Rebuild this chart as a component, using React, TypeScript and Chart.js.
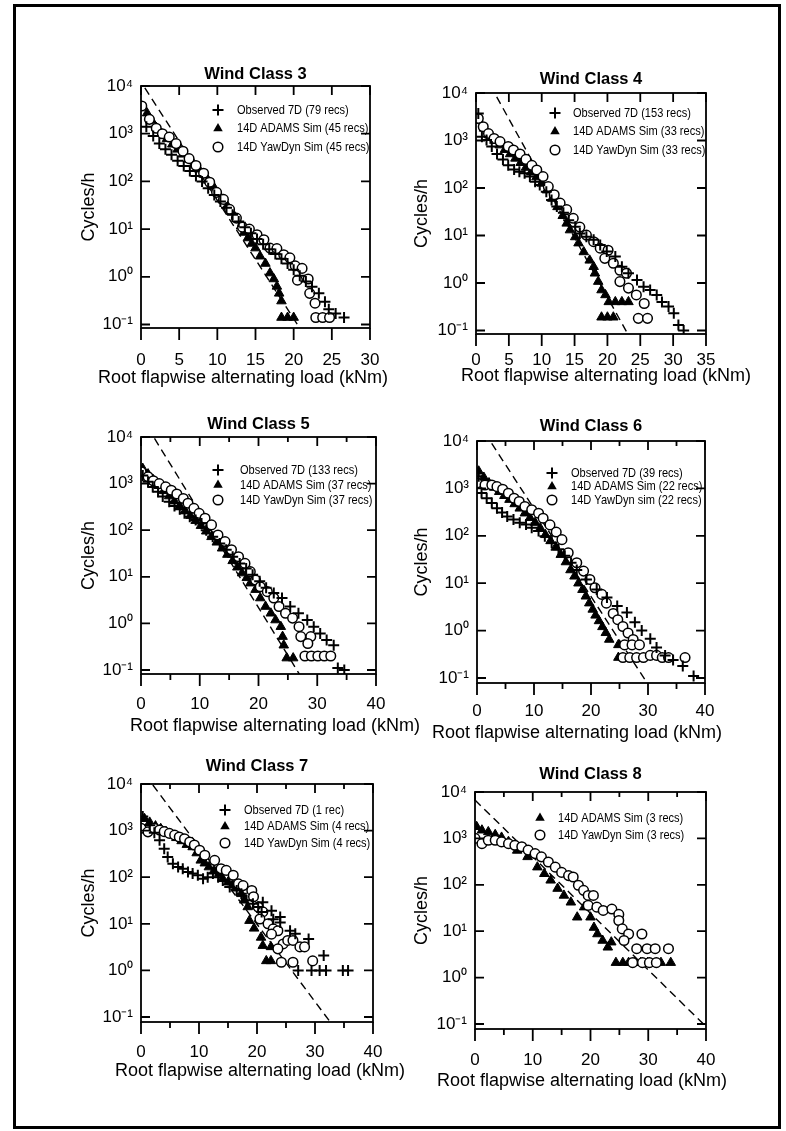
import React, { useEffect, useRef } from 'react';
import { Chart, registerables } from 'chart.js';

Chart.register(...registerables);

type Pt = [number, number];

// ---------- data (x = root flapwise alternating load kNm, y = cycles/h) ----------
const wc3Observed: Pt[] = [[0.7,1400],[1.6,900],[2.4,620],[3.2,470],[4.0,360],[4.8,270],[5.6,210],[6.4,165],[7.2,130],[8.0,100],[8.8,72],[9.6,52],[10.4,38],[11.2,28],[12.0,20],[12.8,14.5],[13.6,11],[14.4,8.2],[15.2,6.2],[16.0,4.8],[16.8,3.8],[17.6,3.0],[18.4,2.4],[19.2,1.9],[20.0,1.4],[20.8,1.05],[21.6,0.8],[22.4,0.62],[23.3,0.45],[24.1,0.3],[24.6,0.21],[25.5,0.17],[26.6,0.14]];
const wc3Adams: Pt[] = [[0.8,2700],[1.4,1900],[2.0,1350],[2.7,1000],[3.4,780],[4.1,600],[4.8,470],[5.5,370],[6.2,290],[6.9,230],[7.6,180],[8.2,140],[8.8,105],[9.5,78],[10.1,57],[10.7,42],[11.3,31],[11.9,23],[12.5,16.5],[13.1,11.5],[13.5,8.5],[14.0,6.5],[14.5,5.0],[15.0,4.0],[15.6,2.7],[16.3,1.9],[16.9,1.2],[17.4,0.9],[17.8,0.63],[18.1,0.45],[18.4,0.31],[18.4,0.14],[19.2,0.14],[20.0,0.14]];
const wc3YawDyn: Pt[] = [[0.1,3800],[1.1,2000],[2.0,1300],[2.8,1000],[3.7,850],[4.6,620],[5.5,430],[6.3,300],[7.2,215],[8.2,148],[9.0,96],[9.9,59],[10.8,42],[11.6,26],[12.5,17],[13.3,11],[14.2,10],[15.2,7.6],[16.1,6.0],[16.9,4.0],[17.8,3.9],[18.7,2.9],[19.5,2.5],[20.2,1.7],[21.1,1.5],[20.5,0.85],[21.9,0.9],[22.1,0.45],[22.8,0.28],[22.9,0.14],[23.8,0.14],[24.7,0.14]];
const wc3Fit: Pt[] = [[0.5,9100],[20.8,0.084]];

const wc4Observed: Pt[] = [[0.35,3700],[0.9,1200],[1.6,1020],[2.4,750],[3.2,520],[4.1,400],[4.9,300],[5.8,246],[6.6,220],[7.4,205],[8.2,174],[9.0,135],[9.7,115],[10.7,83],[11.5,56],[12.3,41],[13.3,30],[14.1,21],[15.1,15.3],[15.8,11],[16.8,9.4],[17.9,8.1],[18.9,6.3],[19.9,4.6],[21.2,3.6],[22.2,2.2],[23.2,1.6],[24.5,1.15],[25.5,0.83],[26.5,0.71],[27.5,0.56],[28.3,0.4],[29.3,0.32],[30.1,0.23],[30.8,0.13],[31.6,0.1]];
const wc4Adams: Pt[] = [[0.4,2600],[1.2,1800],[2.0,1300],[2.8,1000],[3.6,800],[4.4,640],[5.2,520],[6.0,420],[6.8,340],[7.6,270],[8.4,215],[9.2,170],[10.0,125],[10.8,90],[11.6,60],[12.4,40],[13.2,26],[13.8,18],[14.3,13],[15.1,9.3],[15.6,6.9],[16.4,4.5],[17.3,3.0],[17.9,2.2],[18.1,1.6],[18.6,1.07],[19.1,0.71],[19.7,0.56],[20.2,0.4],[21.2,0.4],[22.2,0.4],[23.2,0.4],[19.1,0.19],[20.0,0.19],[20.9,0.19]];
const wc4YawDyn: Pt[] = [[0.35,2900],[1.1,1950],[1.9,1400],[2.75,1100],[3.66,950],[4.9,750],[5.7,630],[6.7,520],[7.6,400],[8.5,300],[9.25,240],[10.2,174],[11.0,107],[11.9,72],[12.8,48],[13.8,35],[14.8,23],[15.8,15],[16.8,10.2],[17.9,7.4],[18.9,5.4],[20.1,4.9],[19.6,3.3],[20.9,2.6],[21.9,1.85],[22.9,1.6],[21.9,1.07],[23.2,0.78],[24.4,0.56],[25.6,0.37],[24.7,0.18],[26.1,0.18]];
const wc4Fit: Pt[] = [[3.15,8300],[23.1,0.084]];

const wc5Observed: Pt[] = [[0.3,1500],[1.2,1100],[2.0,850],[2.9,670],[3.7,530],[4.8,410],[5.7,330],[6.6,280],[7.4,230],[8.3,195],[9.3,165],[10.3,140],[11.1,100],[12.2,72],[13.4,52],[14.5,38],[15.6,27],[16.8,19.4],[17.9,15],[19.0,11],[20.2,8],[21.3,5.8],[22.6,4.5],[24.0,3.5],[25.4,2.3],[26.8,1.65],[28.3,1.18],[29.4,0.85],[30.5,0.61],[31.6,0.44],[32.8,0.34],[33.5,0.11],[34.6,0.1]];
const wc5Adams: Pt[] = [[0.3,2100],[1.2,1600],[2.1,1200],[3.0,900],[3.9,700],[4.8,540],[5.7,420],[6.6,330],[7.5,260],[8.4,205],[9.3,160],[10.2,125],[11.1,95],[12.0,72],[12.9,55],[13.8,41],[14.7,30],[15.6,22],[16.4,16],[17.2,12],[18.0,9.5],[18.6,7.3],[19.5,5.3],[20.3,3.5],[21.2,2.3],[22.1,1.65],[22.9,1.18],[23.8,0.85],[24.1,0.52],[24.3,0.34],[24.8,0.18],[25.9,0.18]];
const wc5YawDyn: Pt[] = [[0.03,1800],[1.2,1400],[2.1,1150],[3.1,1000],[4.2,850],[5.15,720],[6.1,600],[7.2,480],[8.0,380],[9.0,295],[9.9,230],[10.9,180],[12.0,130],[13.1,79],[14.3,57],[15.4,38],[16.6,27],[17.7,19.4],[18.6,12.9],[19.5,8.5],[20.3,6.1],[21.5,4.8],[22.6,3.5],[23.5,2.3],[24.6,1.65],[25.8,1.3],[26.9,0.85],[27.2,0.52],[28.9,0.52],[28.4,0.37],[27.9,0.2],[29.0,0.2],[30.1,0.2],[31.2,0.2],[32.3,0.2]];
const wc5Fit: Pt[] = [[2.3,9300],[27.0,0.08]];

const wc6Observed: Pt[] = [[0.3,1800],[0.8,800],[1.7,620],[2.6,490],[3.5,380],[4.4,310],[5.3,255],[6.4,220],[7.5,188],[8.6,173],[9.6,148],[10.8,126],[11.9,98],[13.1,71],[14.3,52],[15.4,38],[16.5,27],[17.5,19],[19.2,12],[21.0,7.4],[22.8,5.0],[24.6,3.3],[26.3,2.4],[27.7,1.5],[28.9,1.0],[30.4,0.67],[31.5,0.44],[33.0,0.3],[34.4,0.24],[36.1,0.18],[38.0,0.11]];
const wc6Adams: Pt[] = [[0.3,2300],[1.2,1700],[2.1,1300],[3.0,1050],[3.9,850],[4.8,700],[5.7,580],[6.6,470],[7.5,380],[8.4,300],[9.3,240],[10.2,190],[11.1,145],[12.0,105],[12.9,78],[13.8,57],[14.7,40],[15.6,28],[16.4,19],[17.1,14],[17.8,10],[18.5,7.3],[19.1,5.3],[19.7,3.8],[20.3,2.8],[20.8,2.1],[21.4,1.6],[22.0,1.2],[22.6,0.9],[23.2,0.65],[24.8,0.5],[24.8,0.27]];
const wc6YawDyn: Pt[] = [[0,1300],[1.4,1180],[2.6,1180],[3.5,1090],[4.5,960],[5.5,790],[6.5,620],[7.4,530],[8.4,415],[9.6,355],[10.8,300],[11.6,235],[12.8,170],[13.9,120],[14.9,83],[16.0,44],[17.5,27],[18.7,18],[19.8,12],[20.7,8],[21.9,5.8],[22.7,3.8],[23.9,2.3],[24.7,1.7],[25.6,1.22],[26.5,0.89],[27.4,0.65],[25.9,0.5],[27.2,0.5],[28.5,0.5],[25.6,0.27],[26.8,0.27],[28.0,0.27],[29.2,0.27],[30.4,0.3],[31.5,0.3],[32.5,0.27],[33.6,0.27],[36.5,0.27]];
const wc6Fit: Pt[] = [[2.58,8900],[29.8,0.08]];

const wc7Observed: Pt[] = [[0.3,2000],[1.5,1300],[2.3,900],[3.2,620],[4.0,410],[4.6,270],[5.5,195],[6.4,165],[7.2,152],[8.1,129],[8.9,120],[9.8,110],[10.7,93],[11.5,100],[12.4,120],[13.3,100],[14.1,85],[15.3,62],[16.5,52],[17.3,44],[18.2,32],[19.3,27],[20.2,23],[21.0,29],[20.8,18],[22.5,19],[22.8,12.6],[24.0,14],[24.0,10.7],[25.7,7.1],[26.6,6.1],[28.9,4.7],[31.5,2.1],[27.1,1.0],[29.4,1.0],[30.8,1.0],[31.9,1.0],[34.8,1.0],[35.7,1.0]];
const wc7Adams: Pt[] = [[0.6,1800],[1.5,1500],[2.5,1250],[3.4,1100],[4.3,950],[5.2,820],[6.1,700],[7.0,600],[7.9,500],[8.9,445],[9.6,330],[10.3,230],[11.0,200],[11.7,165],[12.6,140],[13.5,120],[14.1,93],[15.0,78],[15.8,68],[16.4,62],[17.3,44],[17.8,32],[18.4,23],[18.7,11.7],[19.5,8],[20.7,5.1],[21.0,3.4],[22.4,3.2],[21.6,1.6],[22.4,1.6]];
const wc7YawDyn: Pt[] = [[0.03,1120],[1.2,940],[2.3,1120],[3.2,1030],[4.0,950],[4.9,870],[5.8,800],[6.6,730],[7.5,670],[8.4,570],[9.2,490],[10.1,380],[11.0,297],[12.7,230],[13.8,152],[14.7,140],[15.9,110],[16.8,72],[17.6,66],[19.1,52],[19.4,38],[20.2,23],[21.0,18],[20.5,12.7],[21.9,10],[22.8,7.8],[23.6,7.1],[22.5,6.0],[24.5,3.7],[23.6,2.9],[25.3,4.4],[26.2,4.4],[27.4,3.2],[28.2,3.2],[24.2,1.5],[26.2,1.5],[29.6,1.6]];
const wc7Fit: Pt[] = [[2.04,9500],[32.6,0.079]];

const wc8Adams: Pt[] = [[0.29,1780],[1.2,1500],[2.3,1380],[3.5,1200],[4.6,1050],[5.8,850],[7.3,550],[9.1,400],[10.8,240],[12.0,173],[13.1,125],[14.3,83],[15.4,59],[16.6,42],[17.7,20],[18.9,33],[20.0,20],[20.6,12],[21.2,8.7],[22.1,6.3],[23.0,4.5],[23.6,5.8],[24.4,2.1],[25.6,2.1],[26.6,2.1],[27.6,2.1],[28.7,2.1],[29.9,2.1],[32.2,2.1],[33.9,2.1]];
const wc8YawDyn: Pt[] = [[0,1000],[1.2,770],[2.3,910],[3.5,910],[4.6,840],[5.8,770],[6.9,710],[8.1,660],[9.2,560],[10.4,470],[11.5,400],[12.7,310],[13.9,240],[15.0,185],[16.2,158],[17.0,147],[17.9,98],[18.8,76],[19.6,59],[20.5,59],[19.6,36],[21.1,33],[22.2,28],[23.7,30],[24.9,23],[24.9,17],[25.5,11.2],[26.6,8.7],[28.9,8.7],[25.8,6.3],[28.0,4.2],[29.8,4.2],[31.2,4.2],[33.5,4.2],[27.3,2.1],[29.0,2.1],[30.2,2.1],[31.4,2.1]];
const wc8Fit: Pt[] = [[0,6700],[40,0.088]];

const panelTitles = ['Wind Class 3', 'Wind Class 4', 'Wind Class 5', 'Wind Class 6', 'Wind Class 7', 'Wind Class 8'];
const observedLabels = ['Observed 7D (79 recs)', 'Observed 7D (153 recs)', 'Observed 7D (133 recs)', 'Observed 7D (39 recs)', 'Observed 7D (1 rec)', ''];
const adamsLabels = ['14D ADAMS Sim (45 recs)', '14D ADAMS Sim (33 recs)', '14D ADAMS Sim (37 recs)', '14D ADAMS Sim (22 recs)', '14D ADAMS Sim (4 recs)', '14D ADAMS Sim (3 recs)'];
const yawdynLabels = ['14D YawDyn Sim (45 recs)', '14D YawDyn Sim (33 recs)', '14D YawDyn Sim (37 recs)', '14D YawDyn sim (22 recs)', '14D YawDyn Sim (4 recs)', '14D YawDyn Sim (3 recs)'];
const xMaxima = [30, 35, 40, 40, 40, 40];
const xLabelSteps = [5, 5, 10, 10, 10, 10];
const yTickValues = [0.1, 1, 10, 100, 1000, 10000];
const yMinima = [0.0845, 0.0843, 0.082, 0.0785, 0.0782, 0.078];
const xAxisTitle = 'Root flapwise alternating load (kNm)';
const yAxisTitle = 'Cycles/h';

// ---------- layout (page pixel positions, not data) ----------
type Box = { L: number; R: number; T: number; B: number; titleY: number; tickY: number; xlabY: number; xlabX: number; ylabX: number; lmx: number; ltx: number; ly0: number; ldy: number };
const boxes: Box[] = [
  { L: 141, R: 370, T: 86, B: 328, titleY: 75, tickY: 360, xlabY: 378, xlabX: 243, ylabX: 89, lmx: 218, ltx: 237, ly0: 110, ldy: 18.5 },
  { L: 476, R: 706, T: 93, B: 334, titleY: 80, tickY: 360, xlabY: 376, xlabX: 606, ylabX: 422, lmx: 555, ltx: 573, ly0: 113, ldy: 18.5 },
  { L: 141, R: 376, T: 437, B: 674, titleY: 425, tickY: 704, xlabY: 726, xlabX: 275, ylabX: 89, lmx: 218, ltx: 240, ly0: 470, ldy: 15 },
  { L: 477, R: 705, T: 441, B: 683, titleY: 427, tickY: 711, xlabY: 733, xlabX: 577, ylabX: 422, lmx: 552, ltx: 571, ly0: 473, ldy: 13.5 },
  { L: 141, R: 373, T: 784, B: 1022, titleY: 767, tickY: 1052, xlabY: 1071, xlabX: 260, ylabX: 89, lmx: 225, ltx: 244, ly0: 810, ldy: 16.5 },
  { L: 475, R: 706, T: 792, B: 1029, titleY: 775, tickY: 1060, xlabY: 1081, xlabX: 582, ylabX: 422, lmx: 540, ltx: 558, ly0: 818, ldy: 17 },
];

const FONT = "'Liberation Sans', Arial, Helvetica, sans-serif";
const TITLE_SIZE = 16.5;
const TICK_SIZE = 17;
const AXIS_TITLE_SIZE = 18;
const R_PAD = 60;

const SUP: Record<string, string> = { '-': '\u207B', '0': '\u2070', '1': '\u00B9', '2': '\u00B2', '3': '\u00B3', '4': '\u2074' };
const decadeLabel = (v: number) =>
  '10' + String(Math.round(Math.log10(v))).split('').map((c) => SUP[c]).join('');

const seriesByPanel: { observed: Pt[] | null; adams: Pt[]; yawdyn: Pt[]; fit: Pt[] }[] = [
  { observed: wc3Observed, adams: wc3Adams, yawdyn: wc3YawDyn, fit: wc3Fit },
  { observed: wc4Observed, adams: wc4Adams, yawdyn: wc4YawDyn, fit: wc4Fit },
  { observed: wc5Observed, adams: wc5Adams, yawdyn: wc5YawDyn, fit: wc5Fit },
  { observed: wc6Observed, adams: wc6Adams, yawdyn: wc6YawDyn, fit: wc6Fit },
  { observed: wc7Observed, adams: wc7Adams, yawdyn: wc7YawDyn, fit: wc7Fit },
  { observed: null, adams: wc8Adams, yawdyn: wc8YawDyn, fit: wc8Fit },
];

const CROSS_R = 5.5;
const TRI_R = 5.5;
const CIRC_R = 4.8;

function geometry(b: Box) {
  const left = Math.round(b.ylabX - AXIS_TITLE_SIZE * 0.6);
  const top = Math.round(b.titleY - 2 - TITLE_SIZE * 0.6);
  const yW = b.L - left;
  const width = yW + (b.R - b.L) + R_PAD;
  const height = Math.round(b.xlabY + 16 - top);
  const xH = top + height - b.B;
  const titlePadBottom = b.T - top - 2 - TITLE_SIZE * 1.2;
  const tickPad = b.tickY - b.B - TICK_SIZE * 0.6;
  return { left, top, yW, width, height, xH, titlePadBottom, tickPad };
}

function drawMarker(ctx: CanvasRenderingContext2D, kind: string, x: number, y: number) {
  ctx.save();
  ctx.strokeStyle = '#000';
  ctx.fillStyle = '#000';
  if (kind === 'cross') {
    ctx.lineWidth = 2;
    ctx.beginPath();
    ctx.moveTo(x - CROSS_R, y); ctx.lineTo(x + CROSS_R, y);
    ctx.moveTo(x, y - CROSS_R); ctx.lineTo(x, y + CROSS_R);
    ctx.stroke();
  } else if (kind === 'triangle') {
    const r = TRI_R;
    ctx.beginPath();
    ctx.moveTo(x, y - r);
    ctx.lineTo(x + r * 0.866, y + r * 0.5);
    ctx.lineTo(x - r * 0.866, y + r * 0.5);
    ctx.closePath();
    ctx.fill();
  } else {
    ctx.lineWidth = 1.5;
    ctx.fillStyle = '#fff';
    ctx.beginPath();
    ctx.arc(x, y, CIRC_R, 0, Math.PI * 2);
    ctx.fill();
    ctx.stroke();
  }
  ctx.restore();
}

function Panel({ index }: { index: number }) {
  const ref = useRef<HTMLCanvasElement>(null);
  const b = boxes[index];
  const g = geometry(b);

  useEffect(() => {
    const s = seriesByPanel[index];
    const xMax = xMaxima[index];
    const step = xLabelSteps[index];
    const toXY = (arr: Pt[]) => arr.map(([x, y]) => ({ x, y }));

    const datasets: any[] = [];
    datasets.push({
      label: 'fit', data: toXY(s.fit), showLine: true, borderColor: '#000', borderWidth: 1.4,
      borderDash: [8, 5], pointRadius: 0, fill: false, order: 5,
    });
    datasets.push({
      label: adamsLabels[index], data: toXY(s.adams), pointStyle: 'triangle', pointRadius: TRI_R,
      pointBackgroundColor: '#000', pointBorderColor: '#000', pointBorderWidth: 1, order: 3,
    });
    datasets.push({
      label: yawdynLabels[index], data: toXY(s.yawdyn), pointStyle: 'circle', pointRadius: CIRC_R,
      pointBackgroundColor: '#fff', pointBorderColor: '#000', pointBorderWidth: 1.5, order: 2,
    });
    if (s.observed) {
      datasets.push({
        label: observedLabels[index], data: toXY(s.observed), pointStyle: 'cross', pointRadius: CROSS_R,
        pointBackgroundColor: '#000', pointBorderColor: '#000', pointBorderWidth: 2, order: 1,
      });
    }

    const legendItems: { kind: string; text: string }[] = [];
    if (s.observed) legendItems.push({ kind: 'cross', text: observedLabels[index] });
    legendItems.push({ kind: 'triangle', text: adamsLabels[index] });
    legendItems.push({ kind: 'circle', text: yawdynLabels[index] });

    const decor = {
      id: 'decor',
      afterDraw(chart: any) {
        const { ctx, chartArea: a, scales } = chart;
        const xs = scales.x;
        const ys = scales.y;
        ctx.save();
        ctx.strokeStyle = '#000';
        ctx.lineWidth = 1.8;
        ctx.strokeRect(a.left, a.top, a.right - a.left, a.bottom - a.top);
        ctx.beginPath();
        ctx.moveTo(a.left, a.bottom); ctx.lineTo(a.left, a.bottom + 12);
        ctx.moveTo(a.right, a.bottom); ctx.lineTo(a.right, a.bottom + 12);
        for (const v of yTickValues) {
          const py = ys.getPixelForValue(v);
          ctx.moveTo(a.left, py); ctx.lineTo(a.left + 9, py);
          ctx.moveTo(a.right - 9, py); ctx.lineTo(a.right, py);
        }
        for (let v = 0; v <= xMax; v += 5) {
          const px = xs.getPixelForValue(v);
          const major = v % step === 0;
          ctx.moveTo(px, a.bottom); ctx.lineTo(px, a.bottom + (major ? 12 : 6));
          ctx.moveTo(px, a.top); ctx.lineTo(px, a.top + (major ? 9 : 5));
        }
        ctx.stroke();

        legendItems.forEach((it, i) => {
          const y = b.ly0 - g.top + i * b.ldy;
          drawMarker(ctx, it.kind, b.lmx - g.left, y);
          ctx.save();
          ctx.fillStyle = '#000';
          ctx.font = `13px ${FONT}`;
          ctx.textAlign = 'left';
          ctx.textBaseline = 'middle';
          ctx.translate(b.ltx - g.left, y);
          ctx.scale(0.85, 1);
          ctx.fillText(it.text, 0, 0);
          ctx.restore();
        });

        ctx.fillStyle = '#000';
        ctx.font = `${AXIS_TITLE_SIZE}px ${FONT}`;
        ctx.textAlign = 'center';
        ctx.textBaseline = 'middle';
        ctx.fillText(xAxisTitle, b.xlabX - g.left, b.xlabY - g.top);
        ctx.restore();
      },
    };

    const chart = new Chart(ref.current as HTMLCanvasElement, {
      type: 'scatter',
      data: { datasets },
      options: {
        animation: false,
        responsive: false,
        devicePixelRatio: 1,
        events: [],
        layout: { padding: { left: 0, top: 0, right: R_PAD, bottom: 0 } },
        plugins: {
          legend: { display: false },
          tooltip: { enabled: false },
          title: {
            display: true, text: panelTitles[index], color: '#000', fullSize: false,
            font: { family: FONT, size: TITLE_SIZE, weight: 'bold' },
            padding: { top: 2, bottom: g.titlePadBottom },
          },
        },
        scales: {
          x: {
            type: 'linear', position: 'bottom', min: 0, max: xMax,
            afterFit: (sc: any) => { sc.height = g.xH; },
            grid: { display: false, drawTicks: false },
            border: { display: false },
            ticks: {
              stepSize: step, autoSkip: false, maxRotation: 0, minRotation: 0, padding: g.tickPad,
              color: '#000', font: { family: FONT, size: TICK_SIZE },
            },
          },
          y: {
            type: 'logarithmic', position: 'left', min: yMinima[index], max: 10000,
            afterFit: (sc: any) => { sc.width = g.yW; },
            afterBuildTicks: (sc: any) => { sc.ticks = yTickValues.map((v) => ({ value: v, major: true })); },
            grid: { display: false, drawTicks: false },
            border: { display: false },
            ticks: {
              autoSkip: false, padding: 8, color: '#000', font: { family: FONT, size: TICK_SIZE },
              callback: (v: any) => decadeLabel(Number(v)),
            },
            title: {
              display: true, text: yAxisTitle, color: '#000',
              font: { family: FONT, size: AXIS_TITLE_SIZE }, padding: { top: 0, bottom: 0 },
            },
          },
        },
      } as any,
      plugins: [decor],
    });
    return () => chart.destroy();
  }, [index]);

  return (
    <canvas
      ref={ref}
      width={g.width}
      height={g.height}
      style={{ position: 'absolute', left: g.left, top: g.top, width: g.width, height: g.height }}
    />
  );
}

export default function App() {
  return (
    <div style={{ position: 'absolute', left: 0, top: 0, width: 786, height: 1131, background: '#fff', overflow: 'hidden' }}>
      <div style={{ position: 'absolute', left: 13, top: 4, width: 768, height: 1125, border: '3px solid #000', boxSizing: 'border-box' }} />
      {panelTitles.map((_, i) => (
        <Panel key={i} index={i} />
      ))}
    </div>
  );
}
